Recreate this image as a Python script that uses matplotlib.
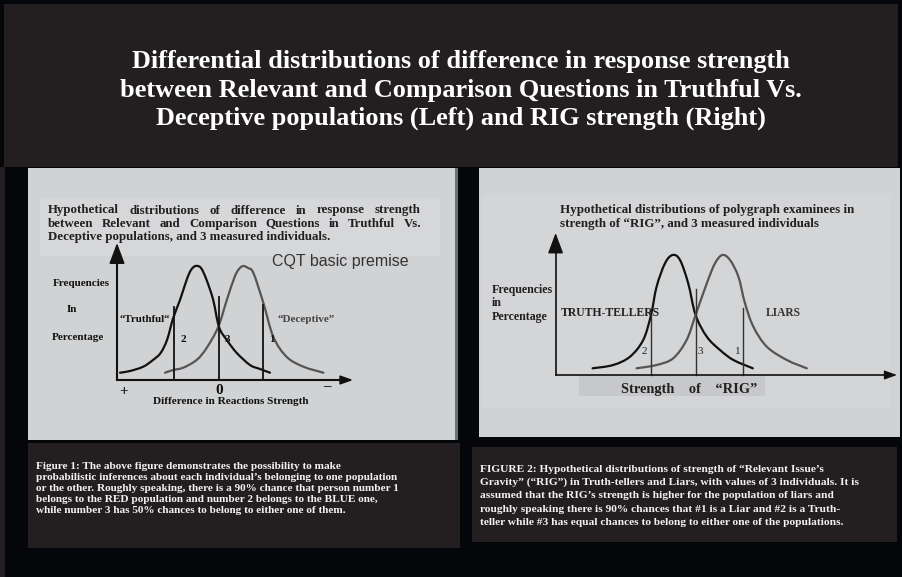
import matplotlib
matplotlib.use("Agg")
import matplotlib.pyplot as plt
import numpy as np
from matplotlib.patches import Rectangle, PathPatch
from matplotlib.path import Path

W, H = 902, 577

# ---------------- data ----------------
# Left chart: difference in reaction strength (0 = centre), frequency (arbitrary %)
truthful_x = [-4.95, -4.45, -3.79, -3.3, -2.92, -2.6, -2.29, -1.95, -1.62, -1.4, -1.17,
              -0.9, -0.62, -0.29, 0.0, 0.39, 0.89, 1.55, 2.05, 2.55]
truthful_y = [0.73, 0.9, 1.33, 2.0, 2.7, 4.0, 6.2, 8.0, 10.0, 11.0, 11.4,
              11.2, 10.0, 8.0, 5.3, 4.0, 2.7, 1.5, 1.1, 0.73]
deceptive_x = [-2.7, -2.29, -1.79, -1.12, -0.62, -0.04, 0.39, 0.78, 1.0, 1.21, 1.45,
               1.72, 2.22, 2.72, 3.39, 4.22, 5.22]
deceptive_y = [0.73, 1.0, 1.23, 2.0, 3.2, 5.3, 8.0, 10.3, 11.1, 11.4, 11.2,
               10.7, 7.7, 4.3, 2.3, 1.33, 0.73]
left_individuals = ["1", "2", "3"]
left_ind_x = [2.2, -2.25, 0.0]
left_ind_top = [7.5, 7.3, 8.3]

# Right chart: strength of "RIG", frequency (arbitrary %)
tellers_x = [-5.17, -4.14, -3.3, -2.64, -2.25, -1.97, -1.55, -1.17, -0.8, -0.39,
             -0.02, 0.54, 1.2, 1.87, 2.84]
tellers_y = [0.67, 1.0, 1.83, 3.5, 6.0, 8.83, 11.17, 12.0, 11.5, 9.17,
             6.0, 3.83, 2.5, 1.5, 0.67]
liars_x = [-2.97, -1.97, -1.14, -0.47, -0.02, 0.54, 0.95, 1.32, 1.7, 2.12, 2.45,
           2.87, 3.54, 4.54, 5.54]
liars_y = [0.67, 1.0, 1.67, 3.5, 6.0, 9.17, 11.17, 12.0, 11.5, 9.83, 7.17,
           4.83, 2.83, 1.5, 0.67]
right_individuals = ["1", "2", "3"]
right_ind_x = [2.35, -2.25, 0.0]
right_ind_top = [6.7, 6.0, 8.6]

# ---------------- figure ----------------
fig = plt.figure(figsize=(W / 100, H / 100), dpi=100)
fig.patch.set_facecolor("#050609")

SERIF = "Liberation Serif"
SANS = "Liberation Sans"


def fx(x):
    return x / W


def fy(y):
    return 1 - y / H


def rect(x0, y0, x1, y1, color, z=-5):
    fig.patches.append(Rectangle((fx(x0), fy(y1)), fx(x1) - fx(x0), fy(y0) - fy(y1),
                                 transform=fig.transFigure, facecolor=color,
                                 edgecolor="none", zorder=z))


def T(x, y, s, **kw):
    kw.setdefault("family", SERIF)
    return fig.text(fx(x), fy(y), s, **kw)


def justify(line, x0, x1, y, **kw):
    words = line.split()
    objs = [T(0, y, w, **kw) for w in words]
    r = fig.canvas.get_renderer()
    widths = [o.get_window_extent(r).width for o in objs]
    gap = (x1 - x0 - sum(widths)) / (len(words) - 1)
    x = x0
    for o, w in zip(objs, widths):
        o.set_position((fx(x), fy(y)))
        x += w + gap


def smooth_curve(ax, xs, ys, **kw):
    """Draw a smooth (Catmull-Rom / Bezier) curve through the given points."""
    P = np.column_stack([xs, ys]).astype(float)
    n = len(P)
    verts = [P[0]]
    codes = [Path.MOVETO]
    for i in range(n - 1):
        p0 = P[i - 1] if i > 0 else P[i]
        p1, p2 = P[i], P[i + 1]
        p3 = P[i + 2] if i + 2 < n else P[i + 1]
        verts += [p1 + (p2 - p0) / 6, p2 - (p3 - p1) / 6, p2]
        codes += [Path.CURVE4] * 3
    ax.add_patch(PathPatch(Path(verts, codes), fill=False, capstyle="round",
                           joinstyle="round", **kw))


# header band
rect(4, 4, 898, 167, "#231f20")
rect(0, 167, 5, 577, "#231f20")
# panels
rect(28, 168, 455, 440, "#d1d2d4")
rect(455, 168, 458, 440, "#6d6e70")
rect(479, 168, 900, 437, "#d1d2d4")
rect(40, 198, 440, 256, "#d6d7d9")
rect(483, 195, 890, 408, "#d4d5d7")
rect(579, 375, 765, 396, "#c7c8ca")
# caption boxes
rect(28, 443, 460, 548, "#231f20")
rect(472, 447, 897, 542, "#231f20")

# header title
header = ["Differential distributions of difference in response strength",
          "between Relevant and Comparison Questions in Truthful Vs.",
          "Deceptive populations (Left) and RIG strength (Right)"]
for line, yb in zip(header, [68, 96.7, 125]):
    T(461, yb, line, color="white", fontsize=18.9, fontweight="bold",
      ha="center", va="baseline")

# ---------------- left chart ----------------
axL = fig.add_axes([fx(79), fy(400), 300 / W, 180 / H])
axL.set_xlim(-7, 8)
axL.set_ylim(-2, 16)
axL.axis("off")
smooth_curve(axL, truthful_x, truthful_y, edgecolor="#111111", lw=1.6)
smooth_curve(axL, deceptive_x, deceptive_y, edgecolor="#555555", lw=1.6)
for lab, xv, top in zip(left_individuals, left_ind_x, left_ind_top):
    axL.plot([xv, xv], [0, top], color="#111111", lw=1.3)
axL.plot([-5.1, 6.4], [0, 0], color="#111111", lw=1.5)
axL.plot([-5.1, -5.1], [0, 12.5], color="#111111", lw=1.5)
axL.annotate("", xy=(6.7, 0), xytext=(6.0, 0),
             arrowprops=dict(arrowstyle="-|>,head_length=0.5,head_width=0.18",
                             color="#111111", lw=1.2, shrinkA=0, shrinkB=0,
                             mutation_scale=15))
axL.annotate("", xy=(-5.1, 13.7), xytext=(-5.1, 12.0),
             arrowprops=dict(arrowstyle="-|>,head_length=0.8,head_width=0.3",
                             color="#111111", lw=1.2, shrinkA=0, shrinkB=0,
                             mutation_scale=16))
for lab, tx, ty in [("2", -1.8, 4.0), ("3", 0.4, 4.0), ("1", 2.65, 4.0)]:
    axL.text(tx, ty, lab, family=SERIF, fontweight="bold", fontsize=8,
             ha="center", va="center", color="#111111")

left_title = ["Hypothetical distributions of difference in response strength",
              "between Relevant and Comparison Questions in Truthful Vs."]
justify(left_title[0], 48, 421, 210.5, fontsize=9.3, fontweight="bold",
        color="#231f20", va="center")
justify(left_title[1], 48, 421, 223.5, fontsize=9.3, fontweight="bold",
        color="#231f20", va="center")
T(48, 237, "Deceptive populations, and 3 measured individuals.", fontsize=9.3,
  fontweight="bold", color="#231f20", va="center")

T(272, 262, "CQT basic premise", family=SANS, fontsize=11.5, color="#333333",
  va="center")
T(53, 283, "Frequencies", fontsize=8, fontweight="bold", color="#111111", va="center")
T(67, 310, "In", fontsize=8, fontweight="bold", color="#111111", va="center")
T(52, 338, "Percentage", fontsize=8, fontweight="bold", color="#111111", va="center")
T(119, 319, "\u201cTruthful\u201c", fontsize=7.8, fontweight="bold", color="#111111",
  va="center")
T(277, 319, "\u201cDeceptive\u201d", fontsize=8, fontweight="bold", color="#444444",
  va="center")
T(124, 392, "+", fontsize=11, fontweight="bold", color="#111111", ha="center",
  va="center")
T(219, 390, "0", fontsize=11, fontweight="bold", color="#111111", ha="center",
  va="center")
T(327, 387, "\u2212", fontsize=12, color="#111111", ha="center", va="center")
T(231, 402, "Difference in Reactions Strength", fontsize=8.1, fontweight="bold",
  color="#111111", ha="center", va="center")

# ---------------- right chart ----------------
axR = fig.add_axes([fx(536), fy(405), 380 / W, 180 / H])
axR.set_xlim(-8, 11)
axR.set_ylim(-3, 15)
axR.axis("off")
smooth_curve(axR, tellers_x, tellers_y, edgecolor="#111111", lw=1.6)
smooth_curve(axR, liars_x, liars_y, edgecolor="#555555", lw=1.6)
for lab, xv, top in zip(right_individuals, right_ind_x, right_ind_top):
    axR.plot([xv, xv], [0, top], color="#333333", lw=1.0)
axR.plot([-7.02, 9.7], [0, 0], color="#111111", lw=1.2)
axR.plot([-7.02, -7.02], [0, 13.0], color="#111111", lw=1.2)
axR.annotate("", xy=(10.05, 0), xytext=(9.4, 0),
             arrowprops=dict(arrowstyle="-|>,head_length=0.5,head_width=0.18",
                             color="#111111", lw=1.0, shrinkA=0, shrinkB=0,
                             mutation_scale=15))
axR.annotate("", xy=(-7.02, 14.2), xytext=(-7.02, 12.5),
             arrowprops=dict(arrowstyle="-|>,head_length=0.8,head_width=0.3",
                             color="#111111", lw=1.0, shrinkA=0, shrinkB=0,
                             mutation_scale=16))
for lab, tx, ty in [("2", -2.6, 2.4), ("3", 0.2, 2.4), ("1", 2.1, 2.4)]:
    axR.text(tx, ty, lab, family=SERIF, fontsize=8, ha="center", va="center",
             color="#222222")

T(560, 210, "Hypothetical distributions of polygraph examinees in", fontsize=9.4,
  fontweight="bold", color="#231f20", va="center")
T(560, 223.5, "strength of \u201cRIG\u201d, and 3 measured individuals", fontsize=9.4,
  fontweight="bold", color="#231f20", va="center")
T(492, 290, "Frequencies", fontsize=8.6, fontweight="bold", color="#231f20", va="center")
T(492, 303.5, "in", fontsize=8.6, fontweight="bold", color="#231f20", va="center")
T(492, 317, "Percentage", fontsize=8.6, fontweight="bold", color="#231f20", va="center")
T(561, 313, "TRUTH-TELLERS", fontsize=8.5, fontweight="bold", color="#231f20",
  va="center")
T(766, 313, "LIARS", fontsize=8.3, fontweight="bold", color="#333333", va="center")
T(689, 390, "Strength    of    \u201cRIG\u201d", fontsize=10.4, fontweight="bold",
  color="#231f20", ha="center", va="center")

# ---------------- captions ----------------
cap1 = ["Figure 1: The above figure demonstrates the possibility to make",
        "probabilistic inferences about each individual\u2019s belonging to one population",
        "or the other. Roughly speaking, there is a 90% chance that person number 1",
        "belongs to the RED population and number 2 belongs to the BLUE one,",
        "while number 3 has 50% chances to belong to either one of them."]
for line, yc in zip(cap1, [466.5, 477.5, 488.5, 499.5, 510.5]):
    T(36, yc, line, fontsize=8.1, fontweight="bold", color="#f2f2f2", va="center")

cap2 = ["FIGURE 2: Hypothetical distributions of strength of \u201cRelevant Issue\u2019s",
        "Gravity\u201d (\u201cRIG\u201d) in Truth-tellers and Liars, with values of 3 individuals. It is",
        "assumed that the RIG\u2019s strength is higher for the population of liars and",
        "roughly speaking there is 90% chances that #1 is a Liar and #2 is a Truth-",
        "teller while #3 has equal chances to belong to either one of the populations."]
for line, yc in zip(cap2, [469.3, 482.3, 495.7, 509.3, 522.3]):
    T(480, yc, line, fontsize=8.2, fontweight="bold", color="#f2f2f2", va="center")

fig.savefig("out.png", dpi=100, facecolor=fig.get_facecolor())
